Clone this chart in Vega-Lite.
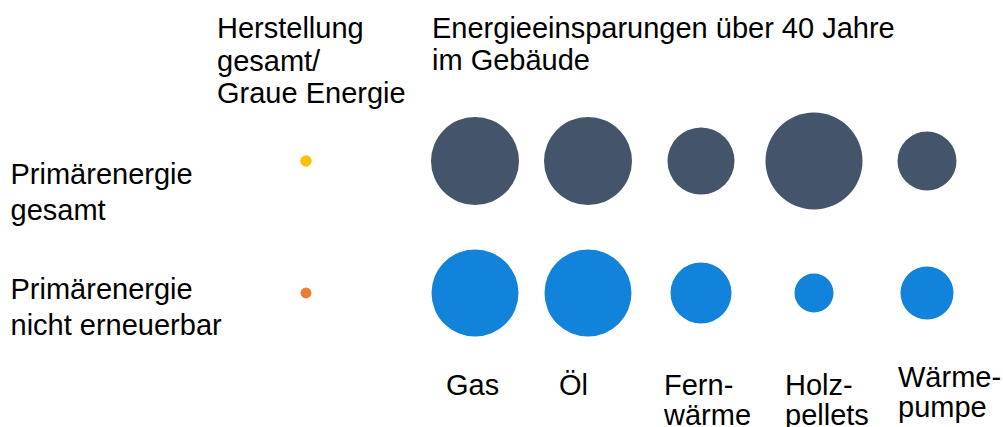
{
  "$schema": "https://vega.github.io/schema/vega-lite/v6.json",
  "padding": {"left": 10, "top": 14, "right": 5, "bottom": 0},
  "bounds": "flush",
  "spacing": 42.5,
  "background": "white",
  "config": {
    "view": {"stroke": null},
    "font": "Liberation Sans",
    "axis": {"domain": false, "ticks": false, "grid": false, "labelFont": "Liberation Sans", "labelFontSize": 29, "labelColor": "#000000", "title": null, "labelLimit": 0},
    "title": {"font": "Liberation Sans", "fontSize": 29, "fontWeight": "normal", "color": "#000000", "anchor": "start", "frame": "group", "lineHeight": 32.5}
  },
  "data": {
    "values": [
      {"kategorie": "Herstellung", "energie": "Primärenergie gesamt", "wert": 1.3},
      {"kategorie": "Herstellung", "energie": "Primärenergie nicht erneuerbar", "wert": 1.2},
      {"kategorie": "Gas", "energie": "Primärenergie gesamt", "wert": 77.4},
      {"kategorie": "Öl", "energie": "Primärenergie gesamt", "wert": 77.4},
      {"kategorie": "Fernwärme", "energie": "Primärenergie gesamt", "wert": 44.9},
      {"kategorie": "Holzpellets", "energie": "Primärenergie gesamt", "wert": 94.1},
      {"kategorie": "Wärmepumpe", "energie": "Primärenergie gesamt", "wert": 34.8},
      {"kategorie": "Gas", "energie": "Primärenergie nicht erneuerbar", "wert": 75.7},
      {"kategorie": "Öl", "energie": "Primärenergie nicht erneuerbar", "wert": 75.7},
      {"kategorie": "Fernwärme", "energie": "Primärenergie nicht erneuerbar", "wert": 37.2},
      {"kategorie": "Holzpellets", "energie": "Primärenergie nicht erneuerbar", "wert": 15.2},
      {"kategorie": "Wärmepumpe", "energie": "Primärenergie nicht erneuerbar", "wert": 28.1}
    ]
  },
  "resolve": {"scale": {"color": "independent", "x": "independent", "y": "shared", "size": "shared"}},
  "hconcat": [
    {
      "width": 140,
      "height": 264,
      "title": {"text": ["Herstellung", "gesamt/", "Graue Energie"], "dx": -19, "offset": -14},
      "transform": [{"filter": "datum.kategorie == 'Herstellung'"}],
      "mark": {"type": "circle", "opacity": 1},
      "encoding": {
        "x": {"field": "kategorie", "type": "nominal", "axis": null, "scale": {"type": "band", "paddingInner": 0, "paddingOuter": 0}},
        "y": {
          "field": "energie", "type": "nominal",
          "scale": {"type": "band", "domain": ["Primärenergie gesamt", "Primärenergie nicht erneuerbar"], "paddingInner": 0, "paddingOuter": 0},
          "axis": {
            "orient": "left",
            "labelAlign": "left",
            "labelBaseline": "alphabetic",
            "labelPadding": 226,
            "labelOffset": {"condition": {"test": "datum.value == 'Primärenergie gesamt'", "value": 23}, "value": 6},
            "labelLineHeight": 36,
            "labelExpr": "[substring(datum.value, 0, 13), substring(datum.value, 14)]"
          }
        },
        "size": {"field": "wert", "type": "quantitative", "scale": {"domain": [0, 100], "range": [0, 10000]}, "legend": null},
        "color": {"field": "energie", "type": "nominal", "scale": {"domain": ["Primärenergie gesamt", "Primärenergie nicht erneuerbar"], "range": ["#FFC000", "#ED7D31"]}, "legend": null}
      }
    },
    {
      "width": 565,
      "height": 264,
      "title": {"text": ["Energieeinsparungen über 40 Jahre", "im Gebäude"], "dx": 13.5, "offset": 19},
      "transform": [{"filter": "datum.kategorie != 'Herstellung'"}],
      "mark": {"type": "circle", "opacity": 1},
      "encoding": {
        "x": {
          "field": "kategorie", "type": "nominal",
          "scale": {"type": "band", "domain": ["Gas", "Öl", "Fernwärme", "Holzpellets", "Wärmepumpe"], "paddingInner": 0, "paddingOuter": 0},
          "axis": {
            "orient": "bottom",
            "labelAngle": 0,
            "labelAlign": "left",
            "labelBaseline": "alphabetic",
            "labelOffset": {"condition": {"test": "datum.value == 'Fernwärme'", "value": -37}, "value": -29},
            "labelPadding": {"condition": {"test": "datum.value == 'Wärmepumpe'", "value": 27}, "value": 35},
            "labelLineHeight": 30,
            "labelExpr": "datum.value == 'Fernwärme' ? ['Fern-', 'wärme'] : datum.value == 'Holzpellets' ? ['Holz-', 'pellets'] : datum.value == 'Wärmepumpe' ? ['Wärme-', 'pumpe'] : datum.value"
          }
        },
        "y": {
          "field": "energie", "type": "nominal",
          "scale": {"type": "band", "domain": ["Primärenergie gesamt", "Primärenergie nicht erneuerbar"], "paddingInner": 0, "paddingOuter": 0},
          "axis": null
        },
        "size": {"field": "wert", "type": "quantitative", "scale": {"domain": [0, 100], "range": [0, 10000]}, "legend": null},
        "color": {"field": "energie", "type": "nominal", "scale": {"domain": ["Primärenergie gesamt", "Primärenergie nicht erneuerbar"], "range": ["#44546A", "#1283DA"]}, "legend": null}
      }
    }
  ]
}
